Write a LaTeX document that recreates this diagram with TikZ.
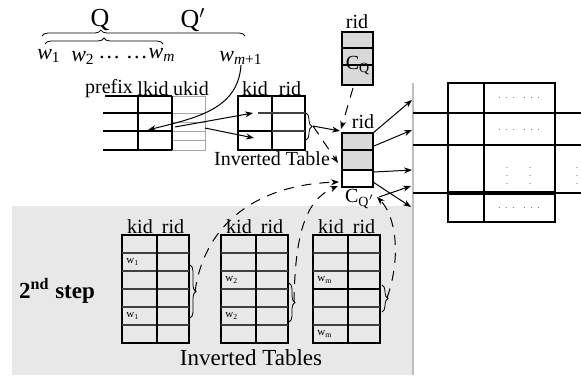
\documentclass[tikz,border=0pt]{standalone}
\usepackage{fontspec}
\setmainfont{Liberation Serif}
\usetikzlibrary{arrows.meta,decorations.pathreplacing,calc}

\begin{document}
\begin{tikzpicture}[x=0.5pt,y=-0.5pt,
    tab/.style={line width=0.8pt},
    row/.style={line width=0.6pt,black!75},
    arr/.style={-{Stealth[length=4pt,width=3pt]},line width=0.5pt},
    darr/.style={arr,dash pattern=on 5pt off 4pt},
    lbl/.style={font=\fontsize{10}{11}\selectfont,inner sep=0pt},
    cell/.style={font=\fontsize{5.5}{6}\selectfont,inner sep=0pt,anchor=west},
    brc/.style={decorate,decoration={brace,amplitude=3pt},line width=0.4pt}]
  \useasboundingbox (0,0) rectangle (581,375);
  % one bottom inverted table: #1 = left x, #2 = name
  \def\invtable#1#2{%
    \draw[tab] (#1,235) rectangle ++(67,108);
    \foreach \r in {1,...,5}
      \draw[row] (#1,235+18*\r) -- ++(67,0);
    \draw[tab] (#1+35,235) -- ++(0,108);
    \coordinate (#2) at (#1,235);
    \node[lbl] at (#1+18,227) {kid};
    \node[lbl] at (#1+51,227) {rid};
  }

  % second step background
  \fill[black!9] (12,206) rectangle (413,375);
  \draw[black!25,line width=0.6pt] (413,83) -- (413,375);

  % query words
  \node[font=\fontsize{13}{14}\selectfont] (Q) at (100,20) {Q};
  \node[font=\fontsize{13}{14}\selectfont] (Qp) at (193,20) {Q$'$};
  \draw[brc,decoration={aspect=0.29}] (42,36) -- (245,36);
  \draw[brc] (45,44) -- (163,44);
  \node[font=\fontsize{11}{12}\selectfont,inner sep=0pt] (w1) at (49,56) {\textit{w}\textsubscript{1}};
  \node[font=\fontsize{11}{12}\selectfont,inner sep=0pt] (w2) at (83,58) {\textit{w}\textsubscript{2}};
  \node[font=\fontsize{11}{12}\selectfont,inner sep=0pt] (wdots) at (123,58) {\dots\ \dots};
  \node[font=\fontsize{11}{12}\selectfont,inner sep=0pt] (wm) at (162,55) {\textit{w}\textsubscript{\textit{m}}};
  \node[font=\fontsize{11}{12}\selectfont,inner sep=0pt] (wm1) at (241,58) {\textit{w}\textsubscript{\textit{m}+1}};

  % prefix table
  \node[lbl] at (109,89) {prefix};
  \node[lbl] at (153,89) {lkid};
  \node[lbl] at (191,89) {ukid};
  \draw[black!35,line width=0.5pt] (172,96) rectangle (205,150)
    (172,113) -- (205,113) (172,122) -- (205,122)
    (172,131) -- (205,131) (172,140) -- (205,140);
  \draw[tab] (105,96) -- (172,96);
  \foreach \y in {113,131,150}
    \draw[tab] (103,\y) -- (172,\y);
  \draw[tab] (138,96) -- (138,150) (172,96) -- (172,150);
  \coordinate (lkid) at (148,130);
  \coordinate (lk1) at (175,127);
  \coordinate (uk1) at (205,128);

  % inverted table of the first step
  \node[lbl] at (255,89) {kid};
  \node[lbl] at (290,89) {rid};
  \draw[tab] (238,96) rectangle (272,150) (238,131) -- (272,131);
  \draw[tab] (272,96) -- (305,96) -- (305,150) -- (272,150);
  \draw[row] (258,113) -- (305,113) (272,131) -- (305,131);
  \coordinate (kid1) at (253,113);
  \coordinate (kid2) at (254,138);
  \draw[brc] (306,113) -- (306,140);
  \coordinate (inv) at (313,126);
  \node[lbl] (invlbl) at (272,159) {Inverted Table};

  \draw[arr] (wm1.south) .. controls (238,110) and (195,118) .. (lkid);
  \draw[arr] (lk1) -- (kid1);
  \draw[arr] (uk1) -- (kid2);

  % rid list C_Q
  \node[lbl] at (357,22) {rid};
  \fill[black!15] (342,32) rectangle (373,85);
  \draw[line width=0.6pt] (342,32) rectangle (373,85) (342,65) -- (373,65);
  \draw[line width=1pt] (342,48) -- (373,48);
  \node[lbl] (cq) at (358,66) {C\textsubscript{Q}};
  \coordinate (cqb) at (353,88);

  % rid list C_Q'
  \node[lbl] at (363,122) {rid};
  \fill[black!15] (342,133) rectangle (373,170);
  \draw[line width=0.6pt] (342,133) rectangle (373,187) (342,150) -- (373,150);
  \draw[line width=1pt] (342,170) -- (373,170);
  \node[lbl] (cqp) at (360,199) {C\textsubscript{Q$'$}};
  \coordinate (ridtop) at (341,129);
  \coordinate (cqpin) at (340,131);
  \coordinate (cqpmid) at (338,163);
  \coordinate (cqpl1) at (339,182);
  \coordinate (cqpl2) at (338,186);
  \coordinate (cqpr) at (377,197);

  \draw[arr] (inv) -- (cqpin);
  \draw[darr] (inv) -- (cqpmid);
  \draw[darr] (cqb) -- (ridtop);

  % result table
  \draw[tab] (448,83) rectangle (555,222) (484,83) -- (484,222);
  \foreach \y in {113,145,193}
    \draw[tab] (413,\y) -- (581,\y);
  \draw[line width=1.8pt] (448,193) -- (555,193);
  \foreach \y/\n in {98/r1,130/r2,208/r4}
    \node[font=\tiny,text=black!55,inner sep=0pt] (\n) at (519,\y) {$\cdots\;\cdots$};
  \foreach \x/\n in {507/v1,530/v2,577/v3}
    \node[font=\tiny,text=black!55,inner sep=0pt] (\n) at (\x,170) {$\vdots$};
  \coordinate (s1) at (412,100);
  \coordinate (s2) at (412,130);
  \coordinate (s3) at (412,170);
  \coordinate (s4) at (411,186);
  \coordinate (s5) at (411,207);
  \coordinate (o1) at (373,133);
  \coordinate (o2) at (374,146);
  \coordinate (o3) at (374,172);
  \coordinate (o4) at (373,182);
  \coordinate (o5) at (379,197);
  \draw[arr] (o1) -- (s1);
  \draw[arr] (o2) -- (s2);
  \draw[arr] (o3) -- (s3);
  \draw[arr] (o4) -- (s5);
  \draw[arr] (o5) -- (s4);

  % second step: inverted tables
  \node[font=\bfseries\fontsize{11.5}{12}\selectfont] (step) at (57,291) {2\textsuperscript{nd} step};
  \invtable{122}{ta}
  \invtable{221}{tb}
  \invtable{313}{tc}
  \draw[line width=1.1pt] (313,289) -- (380,289);
  \node[cell] at (126,262) {w\textsubscript{1}};
  \node[cell] at (126,316) {w\textsubscript{1}};
  \node[cell] at (225,280) {w\textsubscript{2}};
  \node[cell] at (225,316) {w\textsubscript{2}};
  \node[cell] at (317,280) {w\textsubscript{m}};
  \node[cell] at (317,334) {w\textsubscript{m}};
  \draw[brc] (190,265) -- (190,318);
  \draw[brc] (289,283) -- (289,322);
  \draw[brc] (382,285) -- (382,312);
  \coordinate (ba) at (195,292);
  \coordinate (bb) at (294,302);
  \coordinate (bc) at (387,298);
  \node[font=\fontsize{11.5}{12}\selectfont] (invs) at (251,358) {Inverted Tables};

  \draw[darr] (ba) .. controls (203,230) and (250,185) .. (cqpl1);
  \draw[darr] (bb) .. controls (295,235) and (305,200) .. (cqpl2);
  \draw[darr] (bc) .. controls (402,255) and (395,215) .. (cqpr);
\end{tikzpicture}
\end{document}
